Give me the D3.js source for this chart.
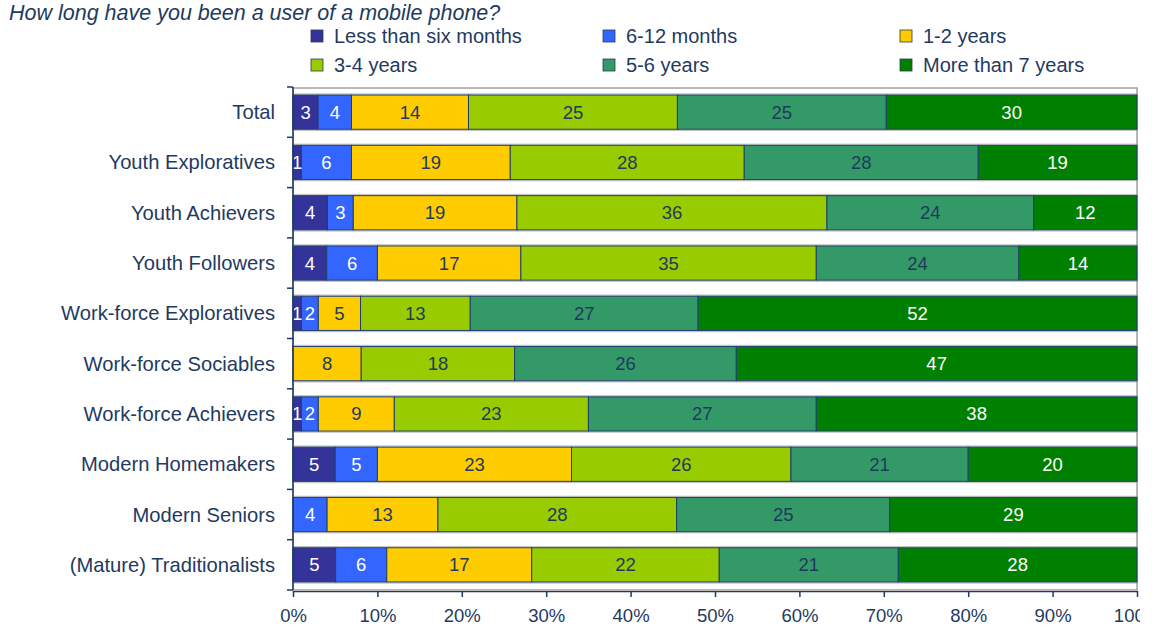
<!DOCTYPE html>
<html>
<head>
<meta charset="utf-8">
<script src="https://cdn.jsdelivr.net/npm/d3@7/dist/d3.min.js"></script>
<style>
  html, body { margin: 0; padding: 0; background: #fff; }
  svg { display: block; font-family: "Liberation Sans", Arial, sans-serif; }
</style>
</head>
<body>
<svg id="chart" width="1165" height="632"></svg>
<script>
// Segments, categories and values (percent of respondents)
const segmentNames = ["Less than six months", "6-12 months", "1-2 years", "3-4 years", "5-6 years", "More than 7 years"];
const segmentColors = ["#333399", "#3366ff", "#ffcc00", "#99cc00", "#339966", "#008000"];
const segmentTextColors = ["#ffffff", "#ffffff", "#1f3a5f", "#1f3a5f", "#1f3a5f", "#ffffff"];

const categories = [
  "Total", "Youth Exploratives", "Youth Achievers", "Youth Followers",
  "Work-force Exploratives", "Work-force Sociables", "Work-force Achievers",
  "Modern Homemakers", "Modern Seniors", "(Mature) Traditionalists"
];

const lessThanSixMonths = [3, 1, 4, 4, 1, 0, 1, 5, 0, 5];
const sixToTwelveMonths = [4, 6, 3, 6, 2, 0, 2, 5, 4, 6];
const oneToTwoYears     = [14, 19, 19, 17, 5, 8, 9, 23, 13, 17];
const threeToFourYears  = [25, 28, 36, 35, 13, 18, 23, 26, 28, 22];
const fiveToSixYears    = [25, 28, 24, 24, 27, 26, 27, 21, 25, 21];
const moreThanSeven     = [30, 19, 12, 14, 52, 47, 38, 20, 29, 28];

const tickLabels = ["0%", "10%", "20%", "30%", "40%", "50%", "60%", "70%", "80%", "90%", "100%"];

const seriesValues = [lessThanSixMonths, sixToTwelveMonths, oneToTwoYears, threeToFourYears, fiveToSixYears, moreThanSeven];

const rows = categories.map((c, i) => {
  const r = { category: c };
  segmentNames.forEach((s, k) => { r[s] = seriesValues[k][i]; });
  return r;
});

const svg = d3.select("#chart");
const textColor = "#1f3a5f";

const plotLeft = 293, plotRight = 1137, plotTop = 87, plotBottom = 590;

const x = d3.scaleLinear().domain([0, 1]).range([plotLeft, plotRight]);
const y = d3.scaleBand().domain(categories).range([plotTop, plotBottom]).paddingInner(0.32).paddingOuter(0.16);

const stacked = d3.stack().keys(segmentNames).offset(d3.stackOffsetExpand)(rows);

// Title
svg.append("text")
  .attr("x", 9).attr("y", 19.5)
  .attr("font-size", 21.5).attr("font-style", "italic")
  .attr("fill", textColor)
  .text("How long have you been a user of a mobile phone?");

// Legend
const legendCols = [311, 603, 900];
const legendRows = [36, 65];
segmentNames.forEach((s, k) => {
  const g = svg.append("g")
    .attr("transform", `translate(${legendCols[k % 3]},${legendRows[Math.floor(k / 3)]})`);
  g.append("rect").attr("x", 0).attr("y", -6).attr("width", 12).attr("height", 12)
    .attr("fill", segmentColors[k]).attr("stroke", "#2a3a4a").attr("stroke-width", 0.8);
  g.append("text").attr("x", 23).attr("y", 7)
    .attr("font-size", 20).attr("fill", textColor).text(s);
});

// Plot frame
svg.append("rect")
  .attr("x", plotLeft).attr("y", plotTop + 1).attr("width", plotRight - plotLeft).attr("height", plotBottom - plotTop - 1)
  .attr("fill", "none").attr("stroke", "#a0a0a0").attr("stroke-width", 1.5);

// Soft gray rim around each bar
svg.append("g").selectAll("rect").data(categories).join("rect")
  .attr("x", plotLeft).attr("y", d => y(d) - 1)
  .attr("width", plotRight - plotLeft).attr("height", y.bandwidth() + 2)
  .attr("fill", "none").attr("stroke", "#9a9a9a").attr("stroke-width", 1.5).attr("opacity", 0.6);

// Bars
const layer = svg.append("g").selectAll("g").data(stacked).join("g")
  .attr("fill", (d, k) => segmentColors[k]);

layer.selectAll("rect").data(d => d.map(v => ({ v, cat: v.data.category })))
  .join("rect")
  .attr("x", d => x(d.v[0]))
  .attr("y", d => y(d.cat))
  .attr("width", d => Math.max(0, x(d.v[1]) - x(d.v[0])))
  .attr("height", y.bandwidth())
  .attr("stroke", "#1f3f6f").attr("stroke-width", 1)
  .attr("display", d => (d.v[1] - d.v[0]) > 0 ? null : "none");

// Value labels
stacked.forEach((series, k) => {
  svg.append("g").selectAll("text").data(series.filter(v => v.data[series.key] > 0)).join("text")
    .attr("x", v => (x(v[0]) + x(v[1])) / 2)
    .attr("y", v => y(v.data.category) + y.bandwidth() / 2 + 6.5)
    .attr("text-anchor", "middle")
    .attr("font-size", 18.5)
    .attr("fill", segmentTextColors[k])
    .text(v => v.data[series.key]);
});

// Left axis with category labels
const yAxis = svg.append("g").attr("transform", `translate(${plotLeft},0)`);
yAxis.append("line").attr("x1", 0).attr("x2", 0).attr("y1", plotTop).attr("y2", plotBottom)
  .attr("stroke", textColor).attr("stroke-width", 1.5);
d3.range(categories.length + 1).forEach(i => {
  const pos = plotTop + i * (plotBottom - plotTop) / categories.length;
  yAxis.append("line").attr("x1", -6).attr("x2", 0).attr("y1", pos).attr("y2", pos)
    .attr("stroke", textColor).attr("stroke-width", 1.5);
});
yAxis.selectAll("text.cat").data(categories).join("text")
  .attr("class", "cat")
  .attr("x", -18)
  .attr("y", d => y(d) + y.bandwidth() / 2 + 7)
  .attr("text-anchor", "end")
  .attr("font-size", 20.2).attr("fill", textColor)
  .text(d => d);

// Bottom axis (last label runs past the right edge of the drawing)
svg.append("clipPath").attr("id", "clipEdge")
  .append("rect").attr("x", 0).attr("y", 0).attr("width", 1140).attr("height", 632);

const xAxis = d3.axisBottom(x)
  .tickValues(d3.range(0, 1.0001, 0.1))
  .tickFormat((d, i) => tickLabels[i])
  .tickSize(6).tickSizeOuter(0);

const gx = svg.append("g").attr("transform", `translate(0,${plotBottom + 1})`)
  .attr("clip-path", "url(#clipEdge)")
  .call(xAxis);
gx.select(".domain").attr("stroke", textColor).attr("stroke-width", 1.5);
gx.selectAll(".tick line").attr("stroke", textColor).attr("stroke-width", 1.5);
gx.selectAll(".tick text").attr("font-size", 18.5).attr("fill", textColor)
  .attr("font-family", "'Liberation Sans', Arial, sans-serif")
  .attr("y", 0).attr("dy", 0)
  .attr("transform", "translate(0,31)");
</script>
</body>
</html>
